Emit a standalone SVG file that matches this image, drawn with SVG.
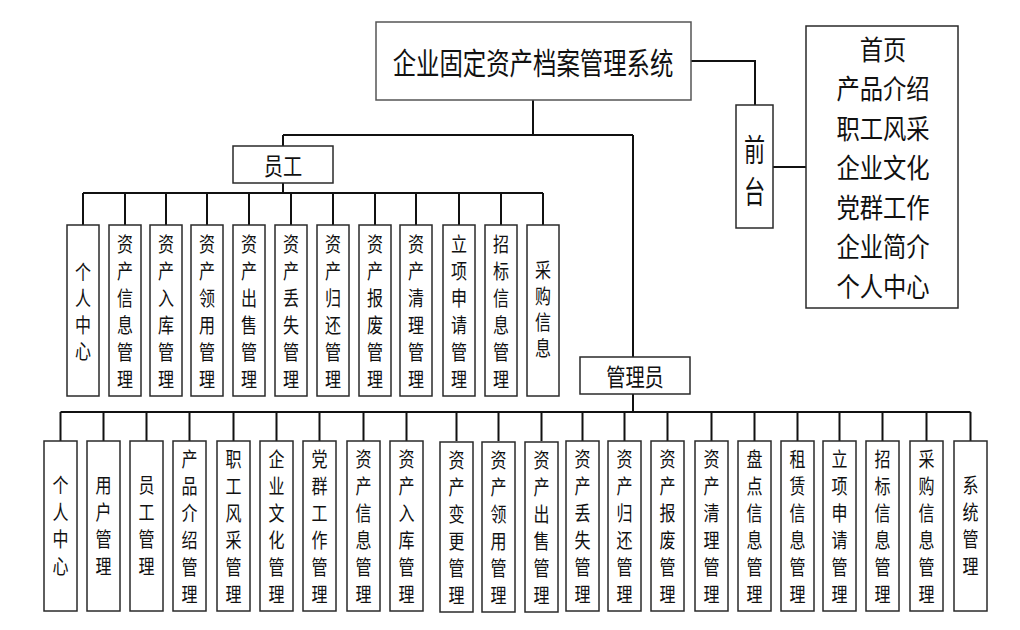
<svg xmlns="http://www.w3.org/2000/svg" width="1020" height="630" viewBox="0 0 1020 630">
<style>
.box{fill:#fff;stroke:#2a2a2a;stroke-width:1.5}
.conn{fill:none;stroke:#111;stroke-width:2}
text{font-family:"Noto Sans CJK SC","Noto Sans",sans-serif;fill:#111;text-anchor:middle;dominant-baseline:central}
.v{font-size:20px}
.h{font-size:24px}
.big{font-size:30px}
.list{font-size:26.8px}
</style>
<rect width="1020" height="630" fill="#fff"/>
<g id="connectors">
<path class="conn" d="M533,100 V135 M283,135 H633 M283,135 V146 M633,135 V357 M633,394 V412"/>
<path class="conn" d="M691,61 H755 V105 M773,167 H806"/>
<path class="conn" d="M83,193 H543 M283,183 V193 M83,193 V225 M125,193 V225 M166,193 V225 M207,193 V225 M249,193 V225 M291,193 V225 M333,193 V225 M375,193 V225 M416,193 V225 M459,193 V225 M501,193 V225 M543,193 V225"/>
<path class="conn" d="M60.5,412 H970.5 M60.5,412 V441 M103.5,412 V441 M146.5,412 V441 M189.5,412 V441 M233.5,412 V441 M276.5,412 V441 M319.5,412 V441 M363.5,412 V441 M406.5,412 V441 M456.5,412 V441 M498.5,412 V441 M541.5,412 V441 M582.5,412 V441 M624.5,412 V441 M667.5,412 V441 M711.5,412 V441 M754.5,412 V441 M797.5,412 V441 M839.5,412 V441 M882.5,412 V441 M926.5,412 V441 M970.5,412 V441"/>
</g>
<g id="root"><rect class="box" x="376" y="22" width="315" height="78" style="stroke:#555"/><text class="big" transform="translate(533 61) scale(0.78 1)">企业固定资产档案管理系统</text></g>
<g id="qiantai"><rect class="box" x="736" y="105" width="37" height="123"/><text class="big" transform="translate(754.5 0) scale(0.68 1)" style="font-size:31px"><tspan x="0" y="147">前</tspan><tspan x="0" y="189">台</tspan></text></g>
<g id="front-pages"><rect class="box" x="806" y="26" width="152" height="282"/><text class="list" transform="translate(883 0) scale(0.87 1)"><tspan x="0" y="48">首页</tspan><tspan x="0" y="87.5">产品介绍</tspan><tspan x="0" y="127">职工风采</tspan><tspan x="0" y="166.5">企业文化</tspan><tspan x="0" y="206">党群工作</tspan><tspan x="0" y="245.5">企业简介</tspan><tspan x="0" y="285">个人中心</tspan></text></g>
<g id="yuangong"><rect class="box" x="233" y="146" width="100" height="37"/><text class="h" transform="translate(283 164.5) scale(0.8 1)">员工</text></g>
<g id="guanliyuan"><rect class="box" x="580" y="357" width="110" height="37"/><text class="h" transform="translate(635 375.5) scale(0.8 1)">管理员</text></g>

<g id="e1"><rect class="box" x="67" y="225" width="32" height="171"/><text class="v" transform="translate(83 0) scale(0.8 1)"><tspan x="0" y="271">个</tspan><tspan x="0" y="297">人</tspan><tspan x="0" y="324">中</tspan><tspan x="0" y="350">心</tspan></text></g>
<g id="e2"><rect class="box" x="109" y="225" width="32" height="171"/><text class="v" transform="translate(125 0) scale(0.8 1)"><tspan x="0" y="243">资</tspan><tspan x="0" y="270">产</tspan><tspan x="0" y="297">信</tspan><tspan x="0" y="324">息</tspan><tspan x="0" y="351">管</tspan><tspan x="0" y="378">理</tspan></text></g>
<g id="e3"><rect class="box" x="150" y="225" width="32" height="171"/><text class="v" transform="translate(166 0) scale(0.8 1)"><tspan x="0" y="243">资</tspan><tspan x="0" y="270">产</tspan><tspan x="0" y="297">入</tspan><tspan x="0" y="324">库</tspan><tspan x="0" y="351">管</tspan><tspan x="0" y="378">理</tspan></text></g>
<g id="e4"><rect class="box" x="191" y="225" width="32" height="171"/><text class="v" transform="translate(207 0) scale(0.8 1)"><tspan x="0" y="243">资</tspan><tspan x="0" y="270">产</tspan><tspan x="0" y="297">领</tspan><tspan x="0" y="324">用</tspan><tspan x="0" y="351">管</tspan><tspan x="0" y="378">理</tspan></text></g>
<g id="e5"><rect class="box" x="233" y="225" width="32" height="171"/><text class="v" transform="translate(249 0) scale(0.8 1)"><tspan x="0" y="243">资</tspan><tspan x="0" y="270">产</tspan><tspan x="0" y="297">出</tspan><tspan x="0" y="324">售</tspan><tspan x="0" y="351">管</tspan><tspan x="0" y="378">理</tspan></text></g>
<g id="e6"><rect class="box" x="275" y="225" width="32" height="171"/><text class="v" transform="translate(291 0) scale(0.8 1)"><tspan x="0" y="243">资</tspan><tspan x="0" y="270">产</tspan><tspan x="0" y="297">丢</tspan><tspan x="0" y="324">失</tspan><tspan x="0" y="351">管</tspan><tspan x="0" y="378">理</tspan></text></g>
<g id="e7"><rect class="box" x="317" y="225" width="32" height="171"/><text class="v" transform="translate(333 0) scale(0.8 1)"><tspan x="0" y="243">资</tspan><tspan x="0" y="270">产</tspan><tspan x="0" y="297">归</tspan><tspan x="0" y="324">还</tspan><tspan x="0" y="351">管</tspan><tspan x="0" y="378">理</tspan></text></g>
<g id="e8"><rect class="box" x="359" y="225" width="32" height="171"/><text class="v" transform="translate(375 0) scale(0.8 1)"><tspan x="0" y="243">资</tspan><tspan x="0" y="270">产</tspan><tspan x="0" y="297">报</tspan><tspan x="0" y="324">废</tspan><tspan x="0" y="351">管</tspan><tspan x="0" y="378">理</tspan></text></g>
<g id="e9"><rect class="box" x="400" y="225" width="32" height="171"/><text class="v" transform="translate(416 0) scale(0.8 1)"><tspan x="0" y="243">资</tspan><tspan x="0" y="270">产</tspan><tspan x="0" y="297">清</tspan><tspan x="0" y="324">理</tspan><tspan x="0" y="351">管</tspan><tspan x="0" y="378">理</tspan></text></g>
<g id="e10"><rect class="box" x="443" y="225" width="32" height="171"/><text class="v" transform="translate(459 0) scale(0.8 1)"><tspan x="0" y="243">立</tspan><tspan x="0" y="270">项</tspan><tspan x="0" y="297">申</tspan><tspan x="0" y="324">请</tspan><tspan x="0" y="351">管</tspan><tspan x="0" y="378">理</tspan></text></g>
<g id="e11"><rect class="box" x="485" y="225" width="32" height="171"/><text class="v" transform="translate(501 0) scale(0.8 1)"><tspan x="0" y="243">招</tspan><tspan x="0" y="270">标</tspan><tspan x="0" y="297">信</tspan><tspan x="0" y="324">息</tspan><tspan x="0" y="351">管</tspan><tspan x="0" y="378">理</tspan></text></g>
<g id="e12"><rect class="box" x="527" y="225" width="32" height="171"/><text class="v" transform="translate(543 0) scale(0.8 1)"><tspan x="0" y="269">采</tspan><tspan x="0" y="295">购</tspan><tspan x="0" y="321">信</tspan><tspan x="0" y="347">息</tspan></text></g>

<g id="a1"><rect class="box" x="44" y="441" width="33" height="170"/><text class="v" transform="translate(60.5 0) scale(0.8 1)"><tspan x="0" y="484">个</tspan><tspan x="0" y="511">人</tspan><tspan x="0" y="538">中</tspan><tspan x="0" y="565">心</tspan></text></g>
<g id="a2"><rect class="box" x="87" y="441" width="33" height="170"/><text class="v" transform="translate(103.5 0) scale(0.8 1)"><tspan x="0" y="484">用</tspan><tspan x="0" y="511">户</tspan><tspan x="0" y="538">管</tspan><tspan x="0" y="565">理</tspan></text></g>
<g id="a3"><rect class="box" x="130" y="441" width="33" height="170"/><text class="v" transform="translate(146.5 0) scale(0.8 1)"><tspan x="0" y="484">员</tspan><tspan x="0" y="511">工</tspan><tspan x="0" y="538">管</tspan><tspan x="0" y="565">理</tspan></text></g>
<g id="a4"><rect class="box" x="173" y="441" width="33" height="170"/><text class="v" transform="translate(189.5 0) scale(0.8 1)"><tspan x="0" y="458">产</tspan><tspan x="0" y="485">品</tspan><tspan x="0" y="512">介</tspan><tspan x="0" y="539">绍</tspan><tspan x="0" y="566">管</tspan><tspan x="0" y="593">理</tspan></text></g>
<g id="a5"><rect class="box" x="217" y="441" width="33" height="170"/><text class="v" transform="translate(233.5 0) scale(0.8 1)"><tspan x="0" y="458">职</tspan><tspan x="0" y="485">工</tspan><tspan x="0" y="512">风</tspan><tspan x="0" y="539">采</tspan><tspan x="0" y="566">管</tspan><tspan x="0" y="593">理</tspan></text></g>
<g id="a6"><rect class="box" x="260" y="441" width="33" height="170"/><text class="v" transform="translate(276.5 0) scale(0.8 1)"><tspan x="0" y="458">企</tspan><tspan x="0" y="485">业</tspan><tspan x="0" y="512">文</tspan><tspan x="0" y="539">化</tspan><tspan x="0" y="566">管</tspan><tspan x="0" y="593">理</tspan></text></g>
<g id="a7"><rect class="box" x="303" y="441" width="33" height="170"/><text class="v" transform="translate(319.5 0) scale(0.8 1)"><tspan x="0" y="458">党</tspan><tspan x="0" y="485">群</tspan><tspan x="0" y="512">工</tspan><tspan x="0" y="539">作</tspan><tspan x="0" y="566">管</tspan><tspan x="0" y="593">理</tspan></text></g>
<g id="a8"><rect class="box" x="347" y="441" width="33" height="170"/><text class="v" transform="translate(363.5 0) scale(0.8 1)"><tspan x="0" y="458">资</tspan><tspan x="0" y="485">产</tspan><tspan x="0" y="512">信</tspan><tspan x="0" y="539">息</tspan><tspan x="0" y="566">管</tspan><tspan x="0" y="593">理</tspan></text></g>
<g id="a9"><rect class="box" x="390" y="441" width="33" height="170"/><text class="v" transform="translate(406.5 0) scale(0.8 1)"><tspan x="0" y="458">资</tspan><tspan x="0" y="485">产</tspan><tspan x="0" y="512">入</tspan><tspan x="0" y="539">库</tspan><tspan x="0" y="566">管</tspan><tspan x="0" y="593">理</tspan></text></g>
<g id="a10"><rect class="box" x="440" y="442" width="33" height="170"/><text class="v" transform="translate(456.5 0) scale(0.8 1)"><tspan x="0" y="459">资</tspan><tspan x="0" y="486">产</tspan><tspan x="0" y="513">变</tspan><tspan x="0" y="540">更</tspan><tspan x="0" y="567">管</tspan><tspan x="0" y="594">理</tspan></text></g>
<g id="a11"><rect class="box" x="482" y="442" width="33" height="170"/><text class="v" transform="translate(498.5 0) scale(0.8 1)"><tspan x="0" y="459">资</tspan><tspan x="0" y="486">产</tspan><tspan x="0" y="513">领</tspan><tspan x="0" y="540">用</tspan><tspan x="0" y="567">管</tspan><tspan x="0" y="594">理</tspan></text></g>
<g id="a12"><rect class="box" x="525" y="442" width="33" height="170"/><text class="v" transform="translate(541.5 0) scale(0.8 1)"><tspan x="0" y="459">资</tspan><tspan x="0" y="486">产</tspan><tspan x="0" y="513">出</tspan><tspan x="0" y="540">售</tspan><tspan x="0" y="567">管</tspan><tspan x="0" y="594">理</tspan></text></g>
<g id="a13"><rect class="box" x="566" y="441" width="33" height="170"/><text class="v" transform="translate(582.5 0) scale(0.8 1)"><tspan x="0" y="458">资</tspan><tspan x="0" y="485">产</tspan><tspan x="0" y="512">丢</tspan><tspan x="0" y="539">失</tspan><tspan x="0" y="566">管</tspan><tspan x="0" y="593">理</tspan></text></g>
<g id="a14"><rect class="box" x="608" y="441" width="33" height="170"/><text class="v" transform="translate(624.5 0) scale(0.8 1)"><tspan x="0" y="458">资</tspan><tspan x="0" y="485">产</tspan><tspan x="0" y="512">归</tspan><tspan x="0" y="539">还</tspan><tspan x="0" y="566">管</tspan><tspan x="0" y="593">理</tspan></text></g>
<g id="a15"><rect class="box" x="651" y="441" width="33" height="170"/><text class="v" transform="translate(667.5 0) scale(0.8 1)"><tspan x="0" y="458">资</tspan><tspan x="0" y="485">产</tspan><tspan x="0" y="512">报</tspan><tspan x="0" y="539">废</tspan><tspan x="0" y="566">管</tspan><tspan x="0" y="593">理</tspan></text></g>
<g id="a16"><rect class="box" x="695" y="441" width="33" height="170"/><text class="v" transform="translate(711.5 0) scale(0.8 1)"><tspan x="0" y="458">资</tspan><tspan x="0" y="485">产</tspan><tspan x="0" y="512">清</tspan><tspan x="0" y="539">理</tspan><tspan x="0" y="566">管</tspan><tspan x="0" y="593">理</tspan></text></g>
<g id="a17"><rect class="box" x="738" y="441" width="33" height="170"/><text class="v" transform="translate(754.5 0) scale(0.8 1)"><tspan x="0" y="458">盘</tspan><tspan x="0" y="485">点</tspan><tspan x="0" y="512">信</tspan><tspan x="0" y="539">息</tspan><tspan x="0" y="566">管</tspan><tspan x="0" y="593">理</tspan></text></g>
<g id="a18"><rect class="box" x="781" y="441" width="33" height="170"/><text class="v" transform="translate(797.5 0) scale(0.8 1)"><tspan x="0" y="458">租</tspan><tspan x="0" y="485">赁</tspan><tspan x="0" y="512">信</tspan><tspan x="0" y="539">息</tspan><tspan x="0" y="566">管</tspan><tspan x="0" y="593">理</tspan></text></g>
<g id="a19"><rect class="box" x="823" y="441" width="33" height="170"/><text class="v" transform="translate(839.5 0) scale(0.8 1)"><tspan x="0" y="458">立</tspan><tspan x="0" y="485">项</tspan><tspan x="0" y="512">申</tspan><tspan x="0" y="539">请</tspan><tspan x="0" y="566">管</tspan><tspan x="0" y="593">理</tspan></text></g>
<g id="a20"><rect class="box" x="866" y="441" width="33" height="170"/><text class="v" transform="translate(882.5 0) scale(0.8 1)"><tspan x="0" y="458">招</tspan><tspan x="0" y="485">标</tspan><tspan x="0" y="512">信</tspan><tspan x="0" y="539">息</tspan><tspan x="0" y="566">管</tspan><tspan x="0" y="593">理</tspan></text></g>
<g id="a21"><rect class="box" x="910" y="441" width="33" height="170"/><text class="v" transform="translate(926.5 0) scale(0.8 1)"><tspan x="0" y="458">采</tspan><tspan x="0" y="485">购</tspan><tspan x="0" y="512">信</tspan><tspan x="0" y="539">息</tspan><tspan x="0" y="566">管</tspan><tspan x="0" y="593">理</tspan></text></g>
<g id="a22"><rect class="box" x="954" y="441" width="33" height="170"/><text class="v" transform="translate(970.5 0) scale(0.8 1)"><tspan x="0" y="484">系</tspan><tspan x="0" y="511">统</tspan><tspan x="0" y="538">管</tspan><tspan x="0" y="565">理</tspan></text></g>
</svg>
